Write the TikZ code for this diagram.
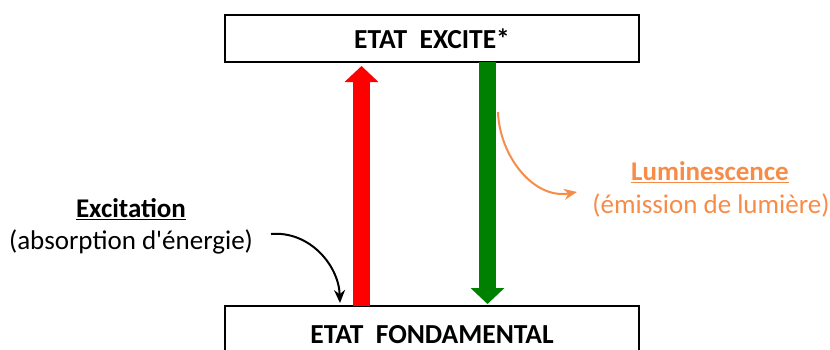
\documentclass[tikz,border=0pt]{standalone}
\usepackage{fontspec}
\setmainfont{Carlito}[Ligatures=TeXOff]
\usetikzlibrary{arrows.meta}
\definecolor{lumorange}{RGB}{247,140,72}
\definecolor{emgreen}{RGB}{0,128,0}
\definecolor{exred}{RGB}{255,0,0}
\begin{document}
\begin{tikzpicture}[x=1pt,y=-1pt,
  levelbox/.style={draw=black, line width=2.4pt, minimum width=414pt, minimum height=47pt, inner sep=0pt, font=\fontsize{27.5}{32}\selectfont\bfseries},
  lbl/.style={inner sep=0pt, font=\fontsize{27}{32}\selectfont},
  bigarrow/.style={line width=16.5pt, -{Triangle[width=33pt,length=16pt]}},
  thinarrow/.style={line width=2pt, -{Stealth[length=13pt,width=11pt]}}]
\useasboundingbox (0,0) rectangle (830,349);
\node[levelbox] (top) at (432,38.5) {ETAT\ \ EXCITE*};
\node[levelbox, minimum height=54pt] (bot) at (432,333) {};
\node[lbl, font=\fontsize{27.5}{32}\selectfont\bfseries, anchor=base] at (432,343) {ETAT\ \ FONDAMENTAL};
\coordinate (rs) at (361.5,306);
\coordinate (re) at (361.5,66);
\draw[bigarrow, exred] (rs) -- (re);
\coordinate (gs) at (487.5,62);
\coordinate (ge) at (487.5,304);
\draw[bigarrow, emgreen] (gs) -- (ge);
\node[lbl, font=\fontsize{27}{32}\selectfont\bfseries] (exc) at (131,209) {\underline{Excitation}};
\node[lbl] (abs) at (131,242) {(absorption d'énergie)};
\coordinate (ea) at (271,234);
\coordinate (eb) at (340,303);
\draw[thinarrow] (ea) to[out=5,in=92] (eb);
\node[lbl, text=lumorange, font=\fontsize{27}{32}\selectfont\bfseries] (lum) at (710,172) {\underline{Luminescence}};
\node[lbl, text=lumorange] (emi) at (711,205) {(émission de lumière)};
\coordinate (la) at (498,112);
\coordinate (lb) at (577,192);
\draw[thinarrow, lumorange] (la) to[out=-88,in=190] (lb);
\end{tikzpicture}
\end{document}
